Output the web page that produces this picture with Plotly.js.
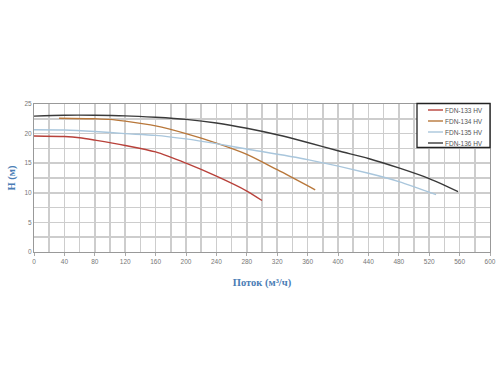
<!DOCTYPE html>
<html><head><meta charset="utf-8">
<script src="https://cdn.plot.ly/plotly-3.0.1.min.js"></script>
<style>html,body{margin:0;padding:0;background:#fff}</style>
</head><body>
<div id="chart" style="width:500px;height:375px"></div>
<script>
const seriesNames = ["FDN-133 HV", "FDN-134 HV", "FDN-135 HV", "FDN-136 HV"];
const x133 = [0, 40, 60, 80, 120, 160, 200, 240, 280, 300];
const y133 = [19.6, 19.5, 19.3, 18.9, 18.0, 16.9, 15.0, 12.8, 10.3, 8.7];
const x134 = [33, 80, 100, 120, 160, 200, 240, 280, 320, 370];
const y134 = [22.6, 22.5, 22.4, 22.1, 21.3, 20.0, 18.4, 16.5, 13.9, 10.5];
const x135 = [0, 40, 80, 120, 160, 200, 240, 280, 360, 440, 480, 529];
const y135 = [20.65, 20.6, 20.35, 20.0, 19.7, 19.1, 18.3, 17.4, 15.6, 13.3, 11.9, 9.7];
const x136 = [0, 40, 80, 120, 160, 200, 240, 280, 320, 360, 400, 440, 480, 520, 558];
const y136 = [22.95, 23.1, 23.1, 23.0, 22.75, 22.4, 21.8, 20.9, 19.8, 18.5, 17.1, 15.8, 14.2, 12.4, 10.2];
const colors = ["#b8413a", "#b8773a", "#a9c6dc", "#3a3a3a"];
const xs = [x133, x134, x135, x136];
const ys = [y133, y134, y135, y136];

const traces = seriesNames.map((n, i) => ({
  x: xs[i], y: ys[i], name: n, type: "scatter", mode: "lines", showlegend: false,
  line: {color: colors[i], width: 1.4, shape: "spline", smoothing: 0.8}
}));

// legend drawn in paper coordinates
const L = 34, W = 456, B = 252, H = 148;
const px = v => (v - L) / W;
const py = v => (B - v) / H;
const shapes = [{type: "rect", xref: "paper", yref: "paper",
  x0: px(417), x1: px(490), y0: py(147.5), y1: py(103.5),
  fillcolor: "#fff", line: {color: "#222", width: 1.3}, layer: "above"}];
const annotations = [];
const rowY = [110, 121, 132, 143];
seriesNames.forEach((n, i) => {
  shapes.push({type: "line", xref: "paper", yref: "paper",
    x0: px(428), x1: px(443), y0: py(rowY[i]), y1: py(rowY[i]),
    line: {color: colors[i], width: 1.4}, layer: "above"});
  annotations.push({xref: "paper", yref: "paper", x: px(443), y: py(rowY[i]),
    xanchor: "left", yanchor: "middle", showarrow: false, text: n,
    font: {family: "Liberation Sans, Arial", size: 6.5, color: "#555"}});
});

const layout = {
  width: 500, height: 375,
  margin: {l: 34, r: 10, t: 104, b: 123, autoexpand: false},
  paper_bgcolor: "#fff", plot_bgcolor: "#fff",
  showlegend: false,
  shapes: shapes, annotations: annotations,
  xaxis: {range: [0, 600], dtick: 40, tick0: 0,
    showgrid: true, gridcolor: "#cdcdcd", gridwidth: 1.6,
    minor: {dtick: 20, showgrid: true, gridcolor: "#cdcdcd", gridwidth: 1.6},
    showline: true, linecolor: "#999", linewidth: 1, mirror: true,
    ticks: "outside", ticklen: 3, tickcolor: "#aaa",
    zeroline: false,
    tickfont: {family: "Liberation Sans, Arial", size: 6.5, color: "#777"},
    title: {text: "Поток (м³/ч)", standoff: 14,
      font: {family: "Liberation Serif, Times New Roman", size: 10.5, color: "#4a7db5", weight: "bold"}}},
  yaxis: {range: [0, 25], dtick: 5, tick0: 0,
    showgrid: true, gridcolor: "#cdcdcd", gridwidth: 1.6,
    minor: {dtick: 2.5, showgrid: true, gridcolor: "#cdcdcd", gridwidth: 1.6},
    showline: true, linecolor: "#999", linewidth: 1, mirror: true,
    ticks: "", zeroline: false,
    tickfont: {family: "Liberation Sans, Arial", size: 6.5, color: "#777"},
    title: {text: "H (м)", standoff: 6,
      font: {family: "Liberation Serif, Times New Roman", size: 10.5, color: "#4a7db5", weight: "bold"}}}
};
Plotly.newPlot("chart", traces, layout, {displayModeBar: false, staticPlot: true});
</script>
</body></html>
